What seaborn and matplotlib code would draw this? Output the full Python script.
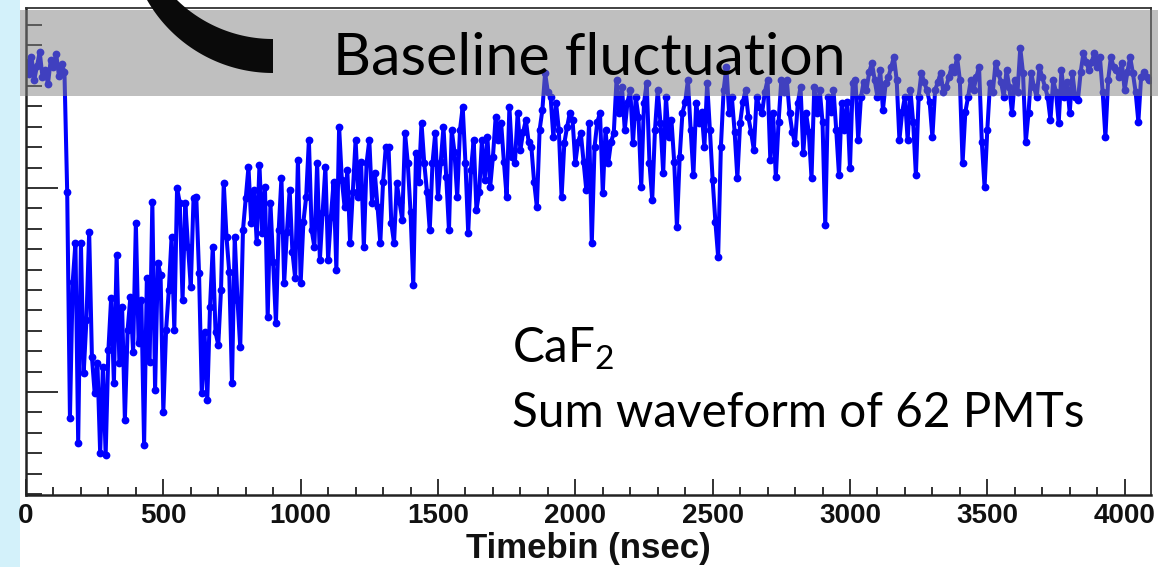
import numpy as np
import pandas as pd
import matplotlib
matplotlib.use("Agg")
import matplotlib.pyplot as plt
import seaborn as sns
from matplotlib.patches import Rectangle, Polygon
from matplotlib.transforms import IdentityTransform
from matplotlib.ticker import MultipleLocator, FixedLocator

# ---------------- data ----------------
TIMEBIN_NS = 10  # one sample every 10 ns
# amplitude in arbitrary units (sum waveform), 0 - 990 ns
amp_0000_0990 = [330, 318, 335, 312, 326, 340, 315, 322, 308, 332, 325, 338, 316, 328, 320,
                 200, -26, 110, 149, -51, 149, 19, 72, 160, 35, -1, 29, -61, 25, -63,
                 42, 94, 9, 137, 29, 85, -28, 62, 95, 40, 169, 49, 92, -53, 114,
                 30, 190, 2, 129, 117, -20, 62, 102, 155, 62, 204, 189, 92, 189, 145,
                 105, 194, 195, 119, -1, 60, -8, 85, 145, 60, 47, 102, 209, 155, 120,
                 9, 155, 92, 45, 162, 194, 225, 169, 202, 150, 227, 159, 205, 75, 189,
                 130, 69, 162, 214, 109, 160, 202, 140, 114, 232]
# 1000 - 1990 ns
amp_1000_1990 = [109, 170, 195, 252, 162, 145, 229, 132, 180, 225, 132, 175, 210, 122, 265,
                 212, 185, 222, 149, 200, 252, 195, 230, 145, 229, 252, 189, 219, 185, 149,
                 210, 245, 245, 169, 149, 209, 190, 172, 259, 229, 180, 107, 239, 210, 269,
                 229, 200, 162, 229, 259, 195, 230, 265, 215, 162, 262, 240, 195, 262, 285,
                 229, 159, 222, 252, 182, 200, 252, 212, 255, 205, 235, 275, 252, 269, 230,
                 195, 285, 235, 229, 279, 242, 260, 272, 250, 245, 210, 185, 262, 282, 319,
                 300, 295, 255, 289, 262, 195, 249, 265, 279, 272]
# 2000 - 2990 ns
amp_2000_2990 = [229, 250, 259, 230, 202, 269, 149, 245, 270, 279, 199, 262, 229, 250, 259,
                 312, 279, 305, 262, 290, 302, 249, 295, 275, 205, 289, 309, 229, 192, 262,
                 302, 269, 219, 295, 255, 272, 230, 165, 235, 279, 290, 312, 262, 217, 289,
                 269, 280, 245, 309, 262, 212, 170, 135, 245, 302, 325, 279, 295, 260, 214,
                 269, 290, 302, 275, 260, 242, 295, 285, 279, 300, 312, 232, 279, 215, 270,
                 312, 300, 312, 279, 260, 249, 289, 305, 239, 279, 260, 214, 305, 279, 302,
                 270, 167, 295, 280, 302, 262, 217, 289, 262, 290]
# 3000 - 4090 ns
amp_3000_4090 = [224, 309, 312, 252, 295, 310, 302, 320, 329, 312, 295, 322, 282, 309, 315,
                 325, 335, 312, 252, 280, 295, 252, 302, 270, 217, 295, 319, 310, 302, 290,
                 255, 302, 310, 319, 300, 305, 315, 325, 320, 335, 312, 229, 280, 295, 312,
                 302, 315, 325, 250, 205, 262, 309, 300, 329, 319, 310, 295, 322, 305, 279,
                 312, 300, 344, 319, 250, 279, 319, 305, 295, 325, 315, 305, 295, 272, 312,
                 300, 269, 322, 295, 310, 279, 319, 295, 292, 320, 339, 330, 322, 330, 339,
                 325, 335, 300, 255, 312, 335, 325, 322, 315, 329, 302, 320, 335, 319, 300,
                 270, 315, 320, 315, 312]

x_tick_values = [0, 500, 1000, 1500, 2000, 2500, 3000, 3500, 4000]
x_tick_labels = ["0", "500", "1000", "1500", "2000", "2500", "3000", "3500", "4000"]
x_label = "Timebin (nsec)"
band_label = "Baseline fluctuation"
crystal_label = "CaF$_\\mathregular{2}$"
desc_label = "Sum waveform of 62 PMTs"

amplitude = np.array(amp_0000_0990 + amp_1000_1990 + amp_2000_2990 + amp_3000_4090, dtype=float)
time_ns = np.arange(len(amplitude)) * TIMEBIN_NS
df = pd.DataFrame({"time": time_ns, "amp": amplitude})

# ---------------- style ----------------
sns.set_style("ticks")
plt.rcParams["font.family"] = ["Liberation Sans", "DejaVu Sans"]
plt.rcParams["mathtext.default"] = "regular"

W, H = 1158, 567
fig = plt.figure(figsize=(W / 100, H / 100), dpi=100)
fig.patch.set_facecolor("white")

ax_l, ax_r, ax_t, ax_b = 26, 1151, 7.5, 495
ax = fig.add_axes([ax_l / W, (H - ax_b) / H, (ax_r - ax_l) / W, (ax_b - ax_t) / H])
ax.set_facecolor("white")

sns.lineplot(data=df, x="time", y="amp", ax=ax, color="#0000ff", linewidth=2.9,
             marker="o", markersize=5.6, markeredgewidth=0, estimator=None, sort=False,
             solid_joinstyle="round")

ax.set_xlim(0, 4096)
ax.set_ylim(-103, 384.5)
ax.xaxis.set_major_locator(FixedLocator(x_tick_values))
ax.set_xticklabels(x_tick_labels, fontsize=20, fontweight="bold", color="#111111")
ax.xaxis.set_minor_locator(MultipleLocator(100))
ax.yaxis.set_major_locator(MultipleLocator(204))
ax.yaxis.set_minor_locator(MultipleLocator(20.4))
ax.set_yticklabels([])
ax.tick_params(axis="x", which="major", direction="in", length=11.5, width=1.3, pad=6, colors="#222222", labelcolor="#111111")
ax.tick_params(axis="x", which="minor", direction="in", length=6, width=1.3, colors="#222222")
ax.tick_params(axis="y", which="major", direction="in", length=23, width=1.3, colors="#222222")
ax.tick_params(axis="y", which="minor", direction="in", length=11.5, width=1.3, colors="#222222")
ax.set_xlabel(x_label, fontsize=25, fontweight="bold", color="#111111", labelpad=2)
ax.set_ylabel("")
for side in ["left", "bottom"]:
    ax.spines[side].set_linewidth(1.8)
    ax.spines[side].set_color("#222222")
for side in ["top", "right"]:
    ax.spines[side].set_visible(True)
    ax.spines[side].set_linewidth(1.3)
    ax.spines[side].set_color("#333333")

ident = IdentityTransform()

# light-blue slide background strip on the left
fig.patches.append(Rectangle((0, 0), 20, H, transform=ident, facecolor="#d3f1fa",
                             edgecolor="none", zorder=-1))

# semi-transparent gray band over the baseline region
fig.patches.append(Rectangle((20, H - 96), W - 20, 86, transform=ident,
                             facecolor=(0.5, 0.5, 0.5), alpha=0.5, edgecolor="none", zorder=3))

# thick black curved arrow tail (top-left)
ang_o = np.linspace(np.pi, 1.5 * np.pi, 200)
cxo, cyo, Ro = 273, -72.2, 145.2
cxi, cyi, Ri = 273, -98.7, 137.7
outer = np.column_stack([cxo + Ro * np.cos(ang_o), cyo - Ro * np.sin(ang_o)])
inner = np.column_stack([cxi + Ri * np.cos(ang_o), cyi - Ri * np.sin(ang_o)])
outer = outer[outer[:, 1] >= -40]
inner = inner[inner[:, 1] >= -40]
pts = np.vstack([outer, inner[::-1]])
pts[:, 1] = H - pts[:, 1]
fig.patches.append(Polygon(pts, closed=True, transform=ident, facecolor="#0a0a0a",
                           edgecolor="none", zorder=4))

fig.text(333, H - 75, band_label, transform=ident, fontsize=42.5, family=["Lato", "DejaVu Sans"],
         color="black", ha="left", va="baseline", zorder=5)
fig.text(512, H - 363, crystal_label, transform=ident, fontsize=34.3, family=["Lato", "DejaVu Sans"],
         color="black", ha="left", va="baseline", zorder=5)
fig.text(512, H - 427, desc_label, transform=ident, fontsize=34.3, family=["Lato", "DejaVu Sans"],
         color="black", ha="left", va="baseline", zorder=5)

fig.savefig("out.png", dpi=100)
